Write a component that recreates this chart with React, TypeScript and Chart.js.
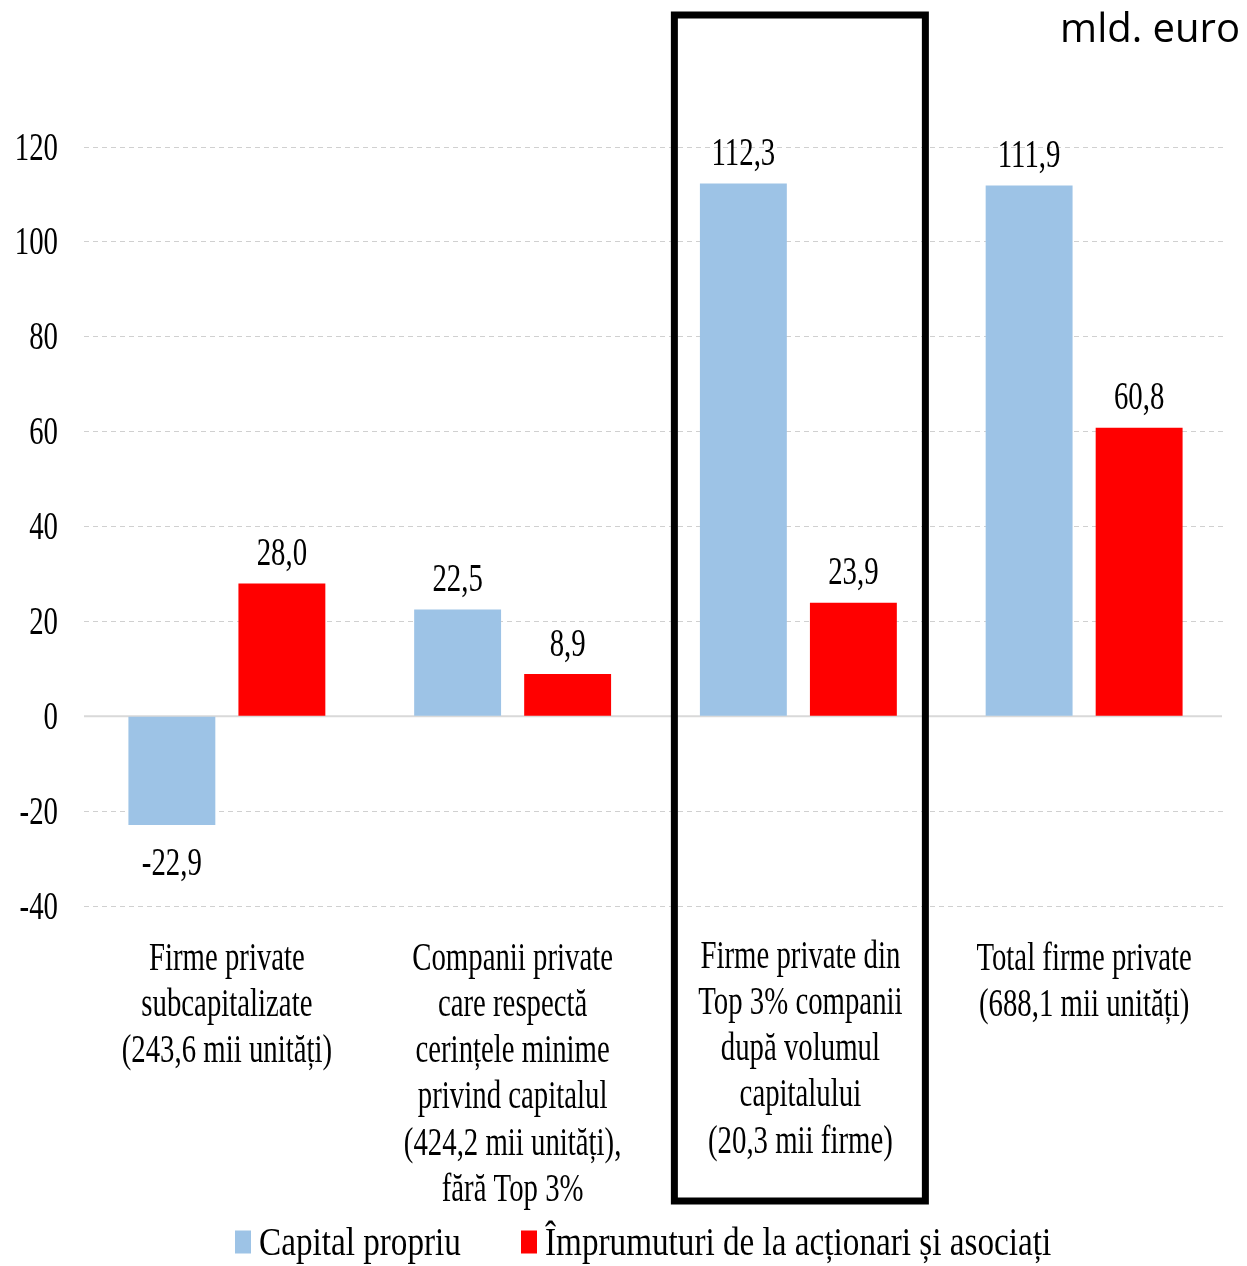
import React, { useEffect, useRef } from "react";
import { Chart, registerables } from "chart.js";

Chart.register(...registerables);

// Category labels (multi-line)
const categories: string[][] = [
  ["Firme private", "subcapitalizate", "(243,6 mii unități)"],
  ["Companii private", "care respectă", "cerințele minime", "privind capitalul", "(424,2 mii unități),", "fără Top 3%"],
  ["Firme private din", "Top 3% companii", "după volumul", "capitalului", "(20,3 mii firme)"],
  ["Total firme private", "(688,1 mii unități)"],
];

const seriesNames = ["Capital propriu", "Împrumuturi de la acționari și asociați"];
const capitalPropriu = [-22.9, 22.5, 112.3, 111.9];
const imprumuturi = [28.0, 8.9, 23.9, 60.8];

const yTicks = [-40, -20, 0, 20, 40, 60, 80, 100, 120];
const unitLabel = "mld. euro";
const highlightedIndex = 2;

const BLUE = "#9DC3E6";
const RED = "#FF0000";
const SERIF = "40px 'Liberation Serif', 'Times New Roman', serif";

function drawNarrow(
  ctx: CanvasRenderingContext2D,
  text: string,
  x: number,
  y: number,
  align: CanvasTextAlign,
  sx: number,
  font: string = SERIF
) {
  ctx.save();
  ctx.translate(x, y);
  ctx.scale(sx, 1);
  ctx.font = font;
  ctx.fillStyle = "#000";
  ctx.textAlign = align;
  ctx.textBaseline = "middle";
  ctx.fillText(text, 0, 0);
  ctx.restore();
}

const fmt = (v: number) => v.toFixed(1).replace(".", ",");

const overlayPlugin = {
  id: "overlay",
  beforeDatasetsDraw(chart: any) {
    const { ctx, chartArea, scales } = chart;
    const y0 = scales.y.getPixelForValue(0);
    ctx.save();
    ctx.strokeStyle = "#d9d9d9";
    ctx.lineWidth = 2;
    ctx.beginPath();
    ctx.moveTo(chartArea.left, y0);
    ctx.lineTo(chartArea.right - 5, y0);
    ctx.stroke();
    ctx.restore();
  },
  afterDatasetsDraw(chart: any) {
    const { ctx, scales, chartArea } = chart;
    const sx = 0.72;
    // value labels
    chart.data.datasets.forEach((ds: any, di: number) => {
      const meta = chart.getDatasetMeta(di);
      meta.data.forEach((bar: any, i: number) => {
        const v = ds.data[i] as number;
        const y = v >= 0 ? bar.y - 29 : bar.y + 40;
        drawNarrow(ctx, fmt(v), bar.x, y, "center", sx);
      });
    });
    // y tick labels
    yTicks.forEach((t) => {
      drawNarrow(ctx, String(t), chartArea.left - 26, scales.y.getPixelForValue(t) + 2, "right", sx);
    });
    // category labels
    const xs = scales.x;
    categories.forEach((lines, i) => {
      const cx = xs.getPixelForValue(i) + (i === highlightedIndex ? 2 : 0);
      lines.forEach((line, li) => {
        drawNarrow(ctx, line, cx, 959 + li * 46.3 - (i === highlightedIndex ? 2 : 0), "center", sx);
      });
    });
    // highlight frame
    const hc = xs.getPixelForValue(highlightedIndex);
    ctx.save();
    ctx.strokeStyle = "#000";
    ctx.lineWidth = 7;
    ctx.strokeRect(hc - 124, 15, 251, 1186);
    ctx.restore();
    // legend
    const legendY = 1242;
    const items = [
      { x: 235, color: BLUE, text: seriesNames[0] },
      { x: 521, color: RED, text: seriesNames[1] },
    ];
    items.forEach((it) => {
      ctx.fillStyle = it.color;
      ctx.fillRect(it.x, legendY - 11.5, 16, 23);
      drawNarrow(ctx, it.text, it.x + 24, legendY + 2, "left", 0.83);
    });
    // unit
    ctx.save();
    ctx.font = "40px 'Open Sans', sans-serif";
    ctx.fillStyle = "#000";
    ctx.textAlign = "right";
    ctx.textBaseline = "middle";
    ctx.fillText(unitLabel, 1240, 31);
    ctx.restore();
  },
};

export default function App() {
  const canvasRef = useRef<HTMLCanvasElement | null>(null);

  useEffect(() => {
    document.body.style.margin = "0";
    const canvas = canvasRef.current;
    if (!canvas) return;
    const chart = new Chart(canvas, {
      type: "bar",
      data: {
        labels: categories,
        datasets: [
          {
            label: seriesNames[0],
            data: capitalPropriu,
            backgroundColor: BLUE,
            barPercentage: 0.79,
            categoryPercentage: 0.77,
          },
          {
            label: seriesNames[1],
            data: imprumuturi,
            backgroundColor: RED,
            barPercentage: 0.79,
            categoryPercentage: 0.77,
          },
        ],
      },
      options: {
        responsive: false,
        animation: false,
        events: [],
        layout: { padding: { left: 84, right: 20, top: 147, bottom: 360 } },
        plugins: {
          legend: { display: false },
          tooltip: { enabled: false },
        },
        scales: {
          x: {
            display: true,
            grid: { display: false, drawTicks: false },
            border: { display: false },
            ticks: { display: false },
            afterFit: (s: any) => {
              s.height = 0;
            },
          },
          y: {
            min: -40,
            max: 120,
            display: true,
            ticks: { display: false, stepSize: 20 },
            grid: {
              drawTicks: false,
              lineWidth: 1,
              color: (c: any) => (c.tick && c.tick.value === 0 ? "rgba(0,0,0,0)" : "#d0d0d0"),
            },
            border: { display: false, dash: [5, 4] },
            afterFit: (s: any) => {
              s.width = 0;
            },
          },
        },
      },
      plugins: [overlayPlugin],
    });
    return () => chart.destroy();
  }, []);

  return (
    <div style={{ width: 1247, height: 1266, background: "#fff" }}>
      <canvas ref={canvasRef} width={1247} height={1266} style={{ display: "block" }} />
    </div>
  );
}
